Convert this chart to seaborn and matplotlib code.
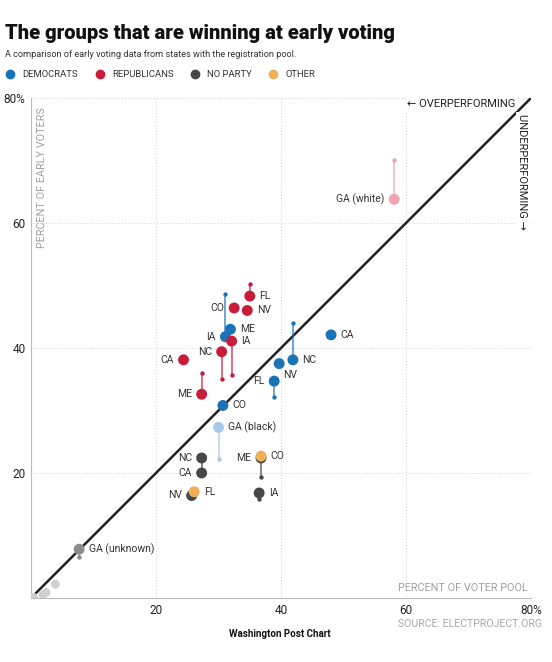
import numpy as np
import pandas as pd
import matplotlib
matplotlib.use("Agg")
import matplotlib.pyplot as plt
from matplotlib.lines import Line2D
import seaborn as sns

# values (percent of voter pool vs percent of early voters)
party  = ["dem"] * 8 + ["rep"] * 8 + ["none"] * 5 + ["other"] * 2 + ["ga_unk"] + ["ga_misc"] * 4
state  = ["CA", "NC", "NV", "FL", "CO", "IA", "ME", "GA (black)",
          "FL", "CO", "NV", "IA", "NC", "CA", "ME", "GA (white)",
          "NC", "CA", "ME", "IA", "NV",
          "CO", "FL",
          "GA (unknown)",
          "", "", "", ""]
pool   = [48.0, 41.9, 39.7, 38.9, 30.7, 31.1, 31.9, 30.0,
          35.0, 32.5, 34.6, 32.1, 30.5, 24.4, 27.3, 58.1,
          27.3, 27.3, 36.8, 36.5, 25.7,
          36.8, 26.1,
          7.7,
          0.4, 1.9, 2.4, 3.9]
early  = [42.1, 38.1, 37.5, 34.7, 30.8, 41.8, 43.0, 27.3,
          48.3, 46.4, 46.0, 41.1, 39.4, 38.1, 32.6, 63.8,
          22.4, 20.0, 22.4, 16.8, 16.4,
          22.7, 17.0,
          7.8,
          0.1, 0.5, 0.9, 2.2]
# where the same group stood in the earlier count (tail end), NaN if no tail
earlier = [np.nan, 44.0, np.nan, 32.2, np.nan, 48.6, np.nan, 22.2,
           50.2, np.nan, np.nan, 35.6, 35.0, np.nan, 36.0, 70.1,
           np.nan, 22.2, 19.3, 15.8, np.nan,
           np.nan, np.nan,
           6.5,
           np.nan, np.nan, np.nan, np.nan]

df = pd.DataFrame({"party": party, "state": state, "pool": pool,
                   "early": early, "earlier": earlier})

# GA racial groups get lighter shades
df["shade"] = df["party"]
df.loc[df["state"] == "GA (white)", "shade"] = "rep_light"
df.loc[df["state"] == "GA (black)", "shade"] = "dem_light"

palette = {"dem": "#1a73b6", "rep": "#c81d3a", "none": "#474747", "other": "#f0b05a",
           "dem_light": "#a7c8e6", "rep_light": "#f0a5b0",
           "ga_unk": "#8c8c8c", "ga_misc": "#d0d0d0"}

left_labels = {("rep", "CO"), ("dem", "IA"), ("rep", "NC"), ("rep", "CA"), ("rep", "ME"),
               ("dem", "FL"), ("rep", "GA (white)"), ("none", "NC"), ("none", "CA"),
               ("none", "ME"), ("none", "NV")}
below_labels = {("dem", "NV")}

sns.set_theme(style="white")
plt.rcParams["font.family"] = ["Roboto", "DejaVu Sans"]

fig = plt.figure(figsize=(5.52, 6.62), dpi=100)
ax = fig.add_axes([0.0562, 0.0967, 0.9058, 0.7553])

ax.plot([0, 80], [0, 80], color="#222222", lw=1.8, zorder=2)

tails = df.dropna(subset=["earlier"])
for _, r in tails.iterrows():
    c = palette[r["shade"]]
    ax.plot([r["pool"], r["pool"]], [r["early"], r["earlier"]], color=c, lw=1.2,
            alpha=0.75, zorder=3)
    ax.scatter(r["pool"], r["earlier"], s=10, color=c, zorder=3, linewidths=0)

big = df[df["party"] != "ga_misc"]
sns.scatterplot(data=big, x="pool", y="early", hue="shade", palette=palette,
                s=62, linewidth=0, legend=False, ax=ax, zorder=4)
sns.scatterplot(data=df[df["party"] == "ga_misc"], x="pool", y="early", hue="shade",
                palette=palette, s=40, linewidth=0, legend=False, ax=ax, zorder=4)

for _, r in df[df["state"] != ""].iterrows():
    key = (r["party"], r["state"])
    if key in left_labels:
        off, ha = (-7, 0), "right"
    elif key in below_labels:
        off, ha = (3, -8), "left"
    else:
        off, ha = (7, 0), "left"
    ax.annotate(r["state"], (r["pool"], r["early"]), xytext=off,
                textcoords="offset points", ha=ha, va="center",
                fontsize=7.5, color="#333333", zorder=5)

ax.set_xlim(0, 80)
ax.set_ylim(0, 80)
ax.set_xticks([20, 40, 60, 80])
ax.set_yticks([20, 40, 60, 80])
ax.set_xticklabels(["20", "40", "60", "80%"])
ax.set_yticklabels(["20", "40", "60", "80%"])
ax.tick_params(axis="both", length=0, labelsize=8.5, colors="#222222", pad=4)
ax.grid(True, color="#cfcfcf", lw=0.7, ls=(0, (1, 2)))
for sp in ["top", "right"]:
    ax.spines[sp].set_visible(False)
for sp in ["left", "bottom"]:
    ax.spines[sp].set_color("#bbbbbb")
    ax.spines[sp].set_linewidth(0.8)
ax.set_xlabel("")
ax.set_ylabel("")

ax.text(1.0, 78.5, "PERCENT OF EARLY VOTERS", rotation=90, ha="left", va="top",
        fontsize=7.8, color="#a0a0a0")
ax.text(79.5, 0.8, "PERCENT OF VOTER POOL", ha="right", va="bottom",
        fontsize=7.8, color="#a0a0a0",
        bbox=dict(facecolor="white", edgecolor="none", pad=1))
ax.text(77.5, 79.0, "\u2190 OVERPERFORMING", ha="right", va="center",
        fontsize=8, color="#222222",
        bbox=dict(facecolor="white", edgecolor="none", pad=1))
ax.text(78.6, 77.5, "UNDERPERFORMING \u2192", rotation=270, ha="center", va="top",
        fontsize=8, color="#222222",
        bbox=dict(facecolor="white", edgecolor="none", pad=1))

fig.text(0.009, 0.950, "The groups that are winning at early voting", fontsize=14.5,
         fontweight="heavy", color="#111111", ha="left", va="center")
fig.text(0.009, 0.917, "A comparison of early voting data from states with the registration pool.",
         fontsize=6.6, color="#333333", ha="left", va="center")

legend_keys = ["dem", "rep", "none", "other"]
legend_names = ["DEMOCRATS", "REPUBLICANS", "NO PARTY", "OTHER"]
legend_x = [0.018, 0.181, 0.353, 0.495]
for k, name, lx in zip(legend_keys, legend_names, legend_x):
    fig.add_artist(Line2D([lx], [0.888], transform=fig.transFigure, marker="o", ls="",
                          color=palette[k], markersize=6))
    fig.text(lx + 0.022, 0.888, name, fontsize=6.8, color="#333333", ha="left", va="center")

fig.text(0.981, 0.057, "SOURCE: ELECTPROJECT.ORG", fontsize=7.6, color="#a8a8a8",
         ha="right", va="center")
fig.text(0.507, 0.042, "Washington Post Chart", fontsize=7, fontweight="bold",
         color="#111111", ha="center", va="center")

fig.savefig("out.png", dpi=100, facecolor="white")
